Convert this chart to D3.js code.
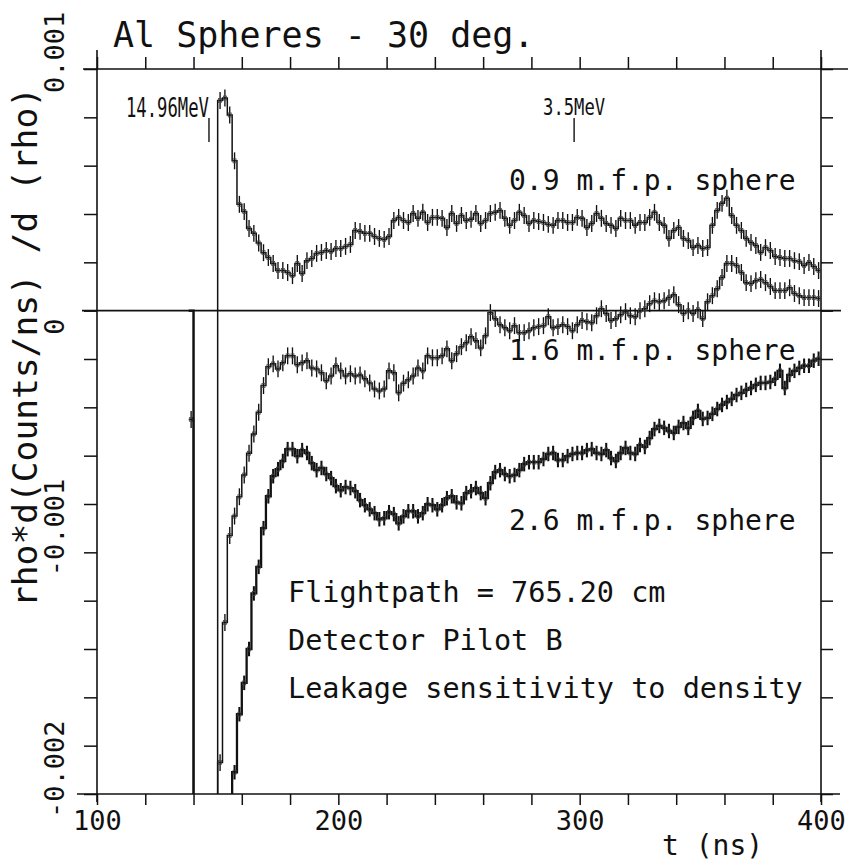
<!DOCTYPE html>
<html>
<head>
<meta charset="utf-8">
<script src="https://cdn.jsdelivr.net/npm/d3@7"></script>
<style>
  body { margin: 0; background: #fff; }
  svg { display: block; }
  text { font-family: "DejaVu Sans Mono", monospace; fill: #111; }
</style>
</head>
<body>
<svg id="chart" width="848" height="865"></svg>
<script>
// histogram bins: 2 ns wide, first bin starts at 138 ns; values in units of 0.001
const binStart = 138;
const binWidth = 2;

const sphere09 = [
  -0.45, -3, -3, -3, -3, -3, 0.87, 0.88, 0.81, 0.62,
  0.44, 0.41, 0.34, 0.32, 0.28, 0.24, 0.22, 0.195, 0.166, 0.166,
  0.158, 0.145, 0.195, 0.154, 0.207, 0.216, 0.237, 0.241, 0.249, 0.245,
  0.257, 0.257, 0.266, 0.274, 0.332, 0.328, 0.320, 0.320, 0.307, 0.299,
  0.295, 0.307, 0.373, 0.386, 0.373, 0.365, 0.402, 0.382, 0.407, 0.365,
  0.386, 0.386, 0.382, 0.344, 0.402, 0.361, 0.394, 0.373, 0.378, 0.402,
  0.361, 0.373, 0.402, 0.407, 0.415, 0.382, 0.353, 0.373, 0.407, 0.394,
  0.361, 0.373, 0.369, 0.365, 0.357, 0.353, 0.373, 0.373, 0.365, 0.365,
  0.386, 0.382, 0.344, 0.361, 0.402, 0.382, 0.361, 0.353, 0.340, 0.382,
  0.373, 0.373, 0.353, 0.365, 0.365, 0.386, 0.407, 0.365, 0.353, 0.299,
  0.332, 0.344, 0.299, 0.290, 0.261, 0.270, 0.257, 0.261, 0.353, 0.415,
  0.444, 0.465, 0.394, 0.353, 0.332, 0.299, 0.282, 0.270, 0.241, 0.261,
  0.249, 0.224, 0.220, 0.216, 0.216, 0.207, 0.203, 0.187, 0.199, 0.183,
  0.166
];

const sphere16 = [
  0, -3, -3, -3, -3, -3, -1.87, -1.29, -0.93, -0.85,
  -0.77, -0.68, -0.59, -0.51, -0.42, -0.31, -0.232, -0.220, -0.241, -0.216,
  -0.187, -0.187, -0.224, -0.216, -0.207, -0.237, -0.241, -0.257, -0.290, -0.270,
  -0.228, -0.249, -0.270, -0.261, -0.270, -0.266, -0.282, -0.299, -0.324, -0.332,
  -0.324, -0.249, -0.257, -0.34, -0.30, -0.286, -0.270, -0.237, -0.249, -0.187,
  -0.195, -0.195, -0.187, -0.158, -0.207, -0.178, -0.149, -0.133, -0.108, -0.124,
  -0.154, -0.104, -0.008, -0.033, -0.058, -0.071, -0.083, -0.062, -0.091, -0.091,
  -0.083, -0.071, -0.066, -0.062, -0.025, -0.071, -0.066, -0.058, -0.066, -0.083,
  -0.058, -0.041, -0.046, -0.050, -0.021, 0.008, -0.012, -0.041, -0.033, -0.017,
  -0.004, -0.021, -0.025, 0, 0.008, 0.029, 0.041, 0.037, 0.041, 0.054,
  0.066, 0.025, -0.012, 0, -0.012, 0.004, -0.033, 0.037, 0.062, 0.091,
  0.137, 0.195, 0.195, 0.187, 0.158, 0.116, 0.112, 0.124, 0.129, 0.116,
  0.100, 0.083, 0.083, 0.083, 0.095, 0.071, 0.062, 0.054, 0.054, 0.054,
  0.050
];

const sphere26 = [
  0, -3, -3, -3, -3, -3, -3, -3, -3, -1.91,
  -1.67, -1.54, -1.40, -1.17, -1.06, -0.90, -0.768, -0.685, -0.656, -0.622,
  -0.573, -0.573, -0.602, -0.577, -0.589, -0.631, -0.660, -0.651, -0.676, -0.693,
  -0.726, -0.743, -0.730, -0.734, -0.747, -0.784, -0.805, -0.822, -0.838, -0.863,
  -0.859, -0.834, -0.842, -0.880, -0.851, -0.830, -0.830, -0.851, -0.838, -0.801,
  -0.805, -0.822, -0.805, -0.776, -0.768, -0.793, -0.797, -0.755, -0.747, -0.734,
  -0.755, -0.776, -0.714, -0.668, -0.660, -0.676, -0.685, -0.680, -0.660, -0.635,
  -0.627, -0.627, -0.627, -0.614, -0.593, -0.589, -0.618, -0.618, -0.602, -0.593,
  -0.589, -0.589, -0.577, -0.573, -0.589, -0.593, -0.577, -0.610, -0.622, -0.589,
  -0.568, -0.589, -0.593, -0.556, -0.564, -0.527, -0.490, -0.477, -0.485, -0.498,
  -0.506, -0.481, -0.465, -0.485, -0.444, -0.415, -0.448, -0.444, -0.427, -0.407,
  -0.390, -0.378, -0.365, -0.349, -0.340, -0.328, -0.320, -0.307, -0.299, -0.299,
  -0.295, -0.282, -0.249, -0.320, -0.266, -0.249, -0.237, -0.228, -0.228, -0.207,
  -0.199
];

const seriesNames = ["0.9 m.f.p. sphere", "1.6 m.f.p. sphere", "2.6 m.f.p. sphere"];
const errorHalf = [0.035, 0.035, 0.03];

const xTicks = [100, 120, 140, 160, 180, 200, 220, 240, 260, 280, 300, 320, 340, 360, 380, 400];
const xTickLabels = {100: "100", 200: "200", 300: "300", 400: "400"};
const yTicks = [-2, -1.8, -1.6, -1.4, -1.2, -1, -0.8, -0.6, -0.4, -0.2, 0, 0.2, 0.4, 0.6, 0.8, 1];
const yLabelValues = [1, 0, -1, -2];
const yLabels = ["0.001", "0", "-0.001", "-0.002"];

const markerTimes = [146.4, 297.7];
const markerLabels = ["14.96MeV", "3.5MeV"];

const infoLines = ["Flightpath = 765.20 cm", "Detector Pilot B", "Leakage sensitivity to density"];

const ink = "#111";
const svg = d3.select("#chart");

const x = d3.scaleLinear().domain([100, 400]).range([97, 821]);
const y = d3.scaleLinear().domain([-2, 1]).range([794, 69]);

// frame lines, a little longer than the plot box like the plotter drew them
svg.append("line").attr("x1", 83).attr("x2", 848).attr("y1", y(1)).attr("y2", y(1))
    .attr("stroke", ink).attr("stroke-width", 1.6);
svg.append("line").attr("x1", 77).attr("x2", 840).attr("y1", y(-2)).attr("y2", y(-2))
    .attr("stroke", ink).attr("stroke-width", 1.6);
svg.append("line").attr("x1", x(100)).attr("x2", x(100)).attr("y1", 50).attr("y2", 802)
    .attr("stroke", ink).attr("stroke-width", 1.6);
svg.append("line").attr("x1", x(400)).attr("x2", x(400)).attr("y1", 50).attr("y2", 802)
    .attr("stroke", ink).attr("stroke-width", 1.6);
// zero line
svg.append("line").attr("x1", 82).attr("x2", 841).attr("y1", y(0)).attr("y2", y(0))
    .attr("stroke", ink).attr("stroke-width", 1.6);

function styleAxis(g) {
    g.select(".domain").remove();
    g.selectAll(".tick line").attr("stroke", ink).attr("stroke-width", 1.5);
}

svg.append("g")
    .attr("transform", `translate(0,${y(-2)})`)
    .call(d3.axisBottom(x).tickValues(xTicks).tickSize(11).tickPadding(6)
        .tickFormat(d => xTickLabels[d] || ""))
    .call(styleAxis)
    .call(g => g.selectAll("text")
        .style("font-family", "DejaVu Sans Mono, monospace")
        .style("font-size", "27px").attr("fill", ink));

svg.append("g")
    .attr("transform", `translate(0,${y(1)})`)
    .call(d3.axisTop(x).tickValues(xTicks).tickSize(12).tickFormat(""))
    .call(styleAxis);

svg.append("g")
    .attr("transform", `translate(${x(100)},0)`)
    .call(d3.axisLeft(y).tickValues(yTicks).tickSize(13).tickFormat(""))
    .call(styleAxis);

svg.append("g")
    .attr("transform", `translate(${x(400)},0)`)
    .call(d3.axisRight(y).tickValues(yTicks).tickSize(12).tickFormat(""))
    .call(styleAxis);

// rotated y tick labels
svg.append("g").selectAll("text")
    .data(yLabelValues)
    .join("text")
    .attr("transform", d => `translate(64,${y(d) + 24}) rotate(-90)`)
    .attr("text-anchor", "start")
    .style("font-size", "27px")
    .text((d, i) => yLabels[i]);

// axis titles and chart title
svg.append("text")
    .attr("x", 113).attr("y", 47)
    .style("font-size", "35px")
    .text("Al Spheres - 30 deg.");

svg.append("text")
    .attr("transform", "translate(37,607) rotate(-90)")
    .attr("text-anchor", "start")
    .attr("textLength", 520)
    .attr("lengthAdjust", "spacingAndGlyphs")
    .style("font-size", "34px")
    .text("rho*d(Counts/ns) /d (rho)");

svg.append("text")
    .attr("x", 662).attr("y", 855)
    .style("font-size", "28px")
    .text("t (ns)");

// data
svg.append("clipPath").attr("id", "plot-clip")
    .append("rect")
    .attr("x", x(100)).attr("y", y(1))
    .attr("width", x(400) - x(100)).attr("height", y(-2) - y(1));

const plot = svg.append("g").attr("clip-path", "url(#plot-clip)");

const step = d3.line()
    .x(d => x(d[0]))
    .y(d => y(d[1]))
    .curve(d3.curveStepAfter);

const allSeries = [sphere09, sphere16, sphere26];
const lineWidths = [1.5, 1.5, 2.3];

allSeries.forEach((vals, k) => {
    const pts = vals.map((v, i) => [binStart + i * binWidth, v]);
    pts.push([binStart + vals.length * binWidth, vals[vals.length - 1]]);

    plot.append("path")
        .attr("d", step(pts))
        .attr("fill", "none")
        .attr("stroke", ink)
        .attr("stroke-width", lineWidths[k]);

    // skip the flat first bin and the off-scale bins
    const bars = vals.map((v, i) => ({i: i, t: binStart + i * binWidth + binWidth / 2, v: v}))
        .filter(d => d.v > -2 && !(d.i === 0 && d.v === 0));

    plot.append("g").selectAll("line")
        .data(bars)
        .join("line")
        .attr("x1", d => x(d.t)).attr("x2", d => x(d.t))
        .attr("y1", d => y(d.v - errorHalf[k]))
        .attr("y2", d => y(d.v + errorHalf[k]))
        .attr("stroke", ink)
        .attr("stroke-width", lineWidths[k] * 0.9);

    plot.append("g").selectAll("rect")
        .data(bars)
        .join("rect")
        .attr("x", d => x(d.t) - 1.5).attr("y", d => y(d.v) - 2)
        .attr("width", 3).attr("height", 4)
        .attr("fill", "none")
        .attr("stroke", "#444")
        .attr("stroke-width", 0.8);
});

// energy markers
markerTimes.forEach(t => {
    svg.append("line")
        .attr("x1", x(t)).attr("x2", x(t))
        .attr("y1", 118).attr("y2", 142)
        .attr("stroke", ink).attr("stroke-width", 1.4);
});
svg.append("text")
    .attr("x", x(markerTimes[0])).attr("y", 117)
    .attr("text-anchor", "end")
    .attr("textLength", 83).attr("lengthAdjust", "spacingAndGlyphs")
    .style("font-size", "26px")
    .text(markerLabels[0]);
svg.append("text")
    .attr("x", x(markerTimes[1])).attr("y", 115)
    .attr("text-anchor", "middle")
    .attr("textLength", 62).attr("lengthAdjust", "spacingAndGlyphs")
    .style("font-size", "23px")
    .text(markerLabels[1]);

// curve labels
const labelBaselines = [190, 360, 530];
seriesNames.forEach((name, i) => {
    svg.append("text")
        .attr("x", 509).attr("y", labelBaselines[i])
        .style("font-size", "28px")
        .text(name);
});

infoLines.forEach((line, i) => {
    svg.append("text")
        .attr("x", 288).attr("y", 602 + i * 48)
        .style("font-size", "28.5px")
        .text(line);
});
</script>
</body>
</html>
